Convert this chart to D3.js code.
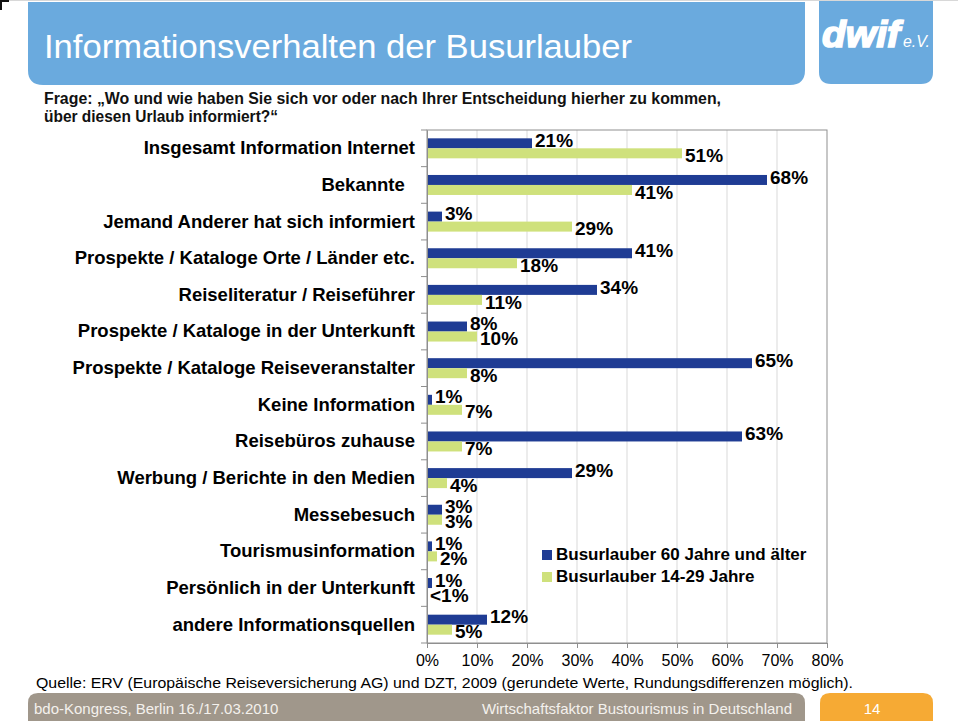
<!DOCTYPE html>
<html>
<head>
<meta charset="utf-8">
<script src="https://cdn.jsdelivr.net/npm/d3@7"></script>
<style>
  html, body { margin: 0; padding: 0; background: #fff; }
  svg { display: block; font-family: "Liberation Sans", Arial, Helvetica, sans-serif; }
</style>
</head>
<body>
<svg id="chart" width="960" height="726"></svg>
<script>
// ---------- data ----------
const categories = [
  "Insgesamt Information Internet",
  "Bekannte\u00a0\u00a0",
  "Jemand Anderer hat sich informiert",
  "Prospekte / Kataloge Orte / Länder etc.",
  "Reiseliteratur / Reiseführer",
  "Prospekte / Kataloge in der Unterkunft",
  "Prospekte / Kataloge Reiseveranstalter",
  "Keine Information",
  "Reisebüros zuhause",
  "Werbung / Berichte in den Medien",
  "Messebesuch",
  "Tourismusinformation",
  "Persönlich in der Unterkunft",
  "andere Informationsquellen"
];
const seniors = [21, 68, 3, 41, 34, 8, 65, 1, 63, 29, 3, 1, 1, 12];
const young   = [51, 41, 29, 18, 11, 10, 8, 7, 7, 4, 3, 2, 0, 5];
const seniorLabels = ["21%","68%","3%","41%","34%","8%","65%","1%","63%","29%","3%","1%","1%","12%"];
const youngLabels  = ["51%","41%","29%","18%","11%","10%","8%","7%","7%","4%","3%","2%","<1%","5%"];
const seriesNames = ["Busurlauber 60 Jahre und älter", "Busurlauber 14-29 Jahre"];
const xTicks = [0, 10, 20, 30, 40, 50, 60, 70, 80];

const titleText = "Informationsverhalten der Busurlauber";
const questionLines = [
  "Frage: \u201EWo und wie haben Sie sich vor oder nach Ihrer Entscheidung hierher zu kommen,",
  "über diesen Urlaub informiert?\u201C"
];
const sourceText = "Quelle: ERV (Europäische Reiseversicherung AG) und DZT, 2009 (gerundete Werte, Rundungsdifferenzen möglich).";
const footerLeft = "bdo-Kongress, Berlin 16./17.03.2010";
const footerRight = "Wirtschaftsfaktor Bustourismus in Deutschland";
const pageNo = "14";

// ---------- style ----------
const BLUE = "#1f3c94";
const GREEN = "#cfe17c";
const HEAD = "#6aaade";
const GREY = "#a0978b";
const ORANGE = "#f6aa34";

const svg = d3.select("#chart");

// ---------- header ----------
svg.append("path")
  .attr("d", "M28,2 H805 V70 Q805,85 790,85 H43 Q28,85 28,70 Z")
  .attr("fill", HEAD);
svg.append("path")
  .attr("d", "M819,0 H933 V72 Q933,84 921,84 H831 Q819,84 819,72 Z")
  .attr("fill", HEAD);
svg.append("line").attr("x1", 0).attr("x2", 958).attr("y1", 0.5).attr("y2", 0.5)
  .attr("stroke", "#d8d8d8").attr("stroke-width", 1);
svg.append("path").attr("d", "M0,0 H9 V2 H2 V10 H0 Z").attr("fill", "#111");

svg.append("text")
  .attr("x", 44).attr("y", 58)
  .attr("fill", "#fff")
  .attr("font-size", 33)
  .attr("textLength", 588).attr("lengthAdjust", "spacingAndGlyphs")
  .text(titleText);

// logo
svg.append("text")
  .attr("x", 822).attr("y", 47)
  .attr("fill", "#fff").attr("stroke", "#fff").attr("stroke-width", 1.6)
  .attr("font-size", 36).attr("font-weight", "bold").attr("font-style", "italic")
  .attr("textLength", 78).attr("lengthAdjust", "spacingAndGlyphs")
  .text("dwif");
svg.append("text")
  .attr("x", 903).attr("y", 47)
  .attr("fill", "#fff").attr("font-size", 17).attr("font-style", "italic")
  .attr("textLength", 27).attr("lengthAdjust", "spacingAndGlyphs")
  .text("e.V.");

// question
svg.append("text")
  .attr("x", 44).attr("y", 104)
  .attr("font-size", 16).attr("font-weight", "bold").attr("fill", "#111")
  .attr("textLength", 677).attr("lengthAdjust", "spacingAndGlyphs")
  .text(questionLines[0]);
svg.append("text")
  .attr("x", 44).attr("y", 122)
  .attr("font-size", 16).attr("font-weight", "bold").attr("fill", "#111")
  .attr("textLength", 234).attr("lengthAdjust", "spacingAndGlyphs")
  .text(questionLines[1]);

// ---------- chart ----------
const x = d3.scaleLinear().domain([0, 80]).range([427, 827]);
const y = d3.scaleBand().domain(categories).range([130, 643]).paddingInner(0).paddingOuter(0);
const sub = d3.scaleBand().domain(["s", "y"]).range([0, 20]);
const barTop = (c, k) => y(c) + y.bandwidth() / 2 - 10 + sub(k);

const g = svg.append("g");

// gridlines
g.selectAll("line.grid").data(xTicks.filter(t => t > 0 && t < 80)).enter()
  .append("line").attr("class", "grid")
  .attr("x1", d => x(d)).attr("x2", d => x(d))
  .attr("y1", 130).attr("y2", 643)
  .attr("stroke", "#d9d9d9").attr("stroke-width", 1);

// plot border
g.append("rect")
  .attr("x", x(0)).attr("y", 130)
  .attr("width", x(80) - x(0)).attr("height", 643 - 130)
  .attr("fill", "none").attr("stroke", "#8f8f8f").attr("stroke-width", 1);

// bars
const rows = categories.map((c, i) => ({ c, s: seniors[i], yv: young[i], sl: seniorLabels[i], yl: youngLabels[i] }));

g.selectAll("rect.bs").data(rows).enter().append("rect")
  .attr("class", "bs")
  .attr("x", x(0))
  .attr("y", d => barTop(d.c, "s"))
  .attr("width", d => x(d.s) - x(0))
  .attr("height", sub.bandwidth())
  .attr("fill", BLUE);

g.selectAll("rect.by").data(rows).enter().append("rect")
  .attr("class", "by")
  .attr("x", x(0))
  .attr("y", d => barTop(d.c, "y"))
  .attr("width", d => x(d.yv) - x(0))
  .attr("height", sub.bandwidth())
  .attr("fill", GREEN);

// value labels
g.selectAll("text.ls").data(rows).enter().append("text")
  .attr("class", "ls")
  .attr("x", d => x(d.s) + 3)
  .attr("y", d => barTop(d.c, "s") + sub.bandwidth() / 2 - 3)
  .attr("dy", "0.35em")
  .attr("font-size", 19).attr("font-weight", "bold").attr("fill", "#000")
  .text(d => d.sl);

g.selectAll("text.ly").data(rows).enter().append("text")
  .attr("class", "ly")
  .attr("x", d => x(d.yv) + 3)
  .attr("y", d => barTop(d.c, "y") + sub.bandwidth() / 2 + 2)
  .attr("dy", "0.35em")
  .attr("font-size", 19).attr("font-weight", "bold").attr("fill", "#000")
  .text(d => d.yl);

// y axis
const yAxis = g.append("g")
  .attr("transform", `translate(${x(0)},0)`)
  .call(d3.axisLeft(y).tickSize(0).tickPadding(12));
yAxis.select(".domain").attr("stroke", "#8f8f8f");
yAxis.selectAll("text").attr("font-size", 18.5).attr("font-weight", "bold").attr("fill", "#000")
  .attr("font-family", "Liberation Sans, Arial, sans-serif");

// category boundary ticks
const bounds = categories.map(c => y(c)).concat([y.range()[1]]);
g.selectAll("line.ct").data(bounds).enter().append("line")
  .attr("class", "ct")
  .attr("x1", x(0) - 6).attr("x2", x(0))
  .attr("y1", d => d).attr("y2", d => d)
  .attr("stroke", "#8f8f8f");

// x axis
const xAxis = g.append("g")
  .attr("transform", "translate(0,643)")
  .call(d3.axisBottom(x).tickValues(xTicks).tickFormat(d => d + "%").tickSize(5).tickPadding(7));
xAxis.select(".domain").attr("stroke", "#8f8f8f");
xAxis.selectAll("line").attr("stroke", "#8f8f8f");
xAxis.selectAll("text").attr("font-size", 16).attr("fill", "#000")
  .attr("font-family", "Liberation Sans, Arial, sans-serif");

// legend
const legColors = [BLUE, GREEN];
const leg = svg.append("g");
seriesNames.forEach((name, i) => {
  leg.append("rect")
    .attr("x", 542).attr("y", 550 + i * 22)
    .attr("width", 10).attr("height", 10)
    .attr("fill", legColors[i]);
  leg.append("text")
    .attr("x", 556).attr("y", 560 + i * 22)
    .attr("font-size", 17).attr("font-weight", "bold").attr("fill", "#000")
    .text(name);
});

// ---------- source & footer ----------
svg.append("text")
  .attr("x", 36).attr("y", 688)
  .attr("font-size", 15.5).attr("fill", "#000")
  .attr("textLength", 817).attr("lengthAdjust", "spacingAndGlyphs")
  .text(sourceText);

svg.append("path")
  .attr("d", "M28,721 V703 Q28,693 38,693 H795 Q805,693 805,703 V721 Z")
  .attr("fill", GREY);
svg.append("path")
  .attr("d", "M820,721 V703 Q820,693 830,693 H923 Q933,693 933,703 V721 Z")
  .attr("fill", ORANGE);

svg.append("text")
  .attr("x", 34).attr("y", 714)
  .attr("font-size", 15).attr("fill", "#f4f1ed")
  .text(footerLeft);
svg.append("text")
  .attr("x", 792).attr("y", 714)
  .attr("text-anchor", "end")
  .attr("font-size", 15).attr("fill", "#f4f1ed")
  .text(footerRight);
svg.append("text")
  .attr("x", 872).attr("y", 714)
  .attr("text-anchor", "middle")
  .attr("font-size", 15).attr("fill", "#fff")
  .text(pageNo);
</script>
</body>
</html>
